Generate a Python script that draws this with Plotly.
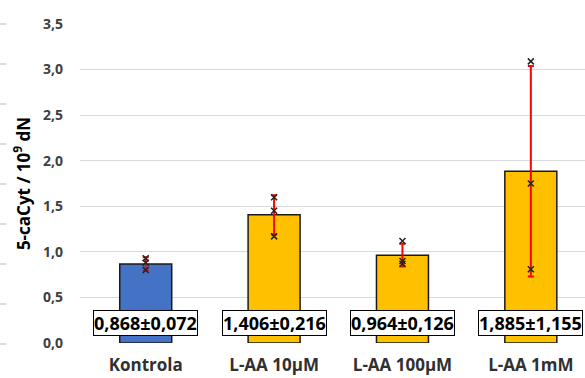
import plotly.graph_objects as go

categories = ["Kontrola", "L-AA 10µM", "L-AA 100µM", "L-AA 1mM"]
means = [0.868, 1.406, 0.964, 1.885]
sds = [0.072, 0.216, 0.126, 1.155]
points = [
    [0.80, 0.88, 0.93],
    [1.17, 1.45, 1.60],
    [0.87, 0.90, 1.12],
    [0.81, 1.75, 3.09],
]
bar_colors = ["#4472C4", "#FFC000", "#FFC000", "#FFC000"]
labels = ["0,868±0,072", "1,406±0,216", "0,964±0,126", "1,885±1,155"]
y_ticks = [0, 0.5, 1.0, 1.5, 2.0, 2.5, 3.0, 3.5]
y_tick_labels = ["0,0", "0,5", "1,0", "1,5", "2,0", "2,5", "3,0", "3,5"]

W, H = 585, 378
L, R, T, B = 80, 0, 24, 35
FONT = "Open Sans"

fig = go.Figure()
fig.add_trace(go.Bar(
    x=list(range(len(categories))), y=means, width=0.405,
    marker=dict(color=bar_colors, line=dict(color="#1a1a1a", width=1.5)),
    error_y=dict(type="data", array=sds, visible=True, color="#FF0000",
                 thickness=2, width=3),
    showlegend=False, hoverinfo="skip",
))
px, py = [], []
for i, pts in enumerate(points):
    for v in pts:
        px.append(i)
        py.append(v)
fig.add_trace(go.Scatter(
    x=px, y=py, mode="markers",
    marker=dict(symbol="x-thin", size=6, color="#222222",
                line=dict(color="#222222", width=1.5)),
    showlegend=False, hoverinfo="skip",
))

for i, t in enumerate(labels):
    fig.add_annotation(
        x=i, y=0.215, text="<b>%s</b>" % t, showarrow=False,
        font=dict(family=FONT, size=18, color="#000000"),
        bgcolor="#FFFFFF", bordercolor="#000000", borderwidth=1, borderpad=0,
    )

# faint tick dashes at the far left edge
plot_h = H - T - B
plot_w = W - L - R
shapes = []
for k in range(9):
    ypix = 24 + 40 * k
    yp = (H - B - ypix) / plot_h
    shapes.append(dict(type="line", xref="paper", yref="paper",
                       x0=(0 - L) / plot_w, x1=(6 - L) / plot_w, y0=yp, y1=yp,
                       line=dict(color="#d0d0d0", width=1.5)))
fig.update_layout(shapes=shapes)

fig.update_layout(
    width=W, height=H,
    margin=dict(l=L, r=R, t=T, b=B, autoexpand=False),
    paper_bgcolor="white", plot_bgcolor="white",
    font=dict(family=FONT),
    xaxis=dict(
        range=[-0.512, 3.422], tickmode="array",
        tickvals=list(range(len(categories))),
        ticktext=["<b>%s</b>" % c for c in categories],
        tickfont=dict(family=FONT, size=17, color="#303030"),
        showgrid=False, zeroline=False, showline=False, ticks="",
        ticklabelstandoff=10, automargin=False,
    ),
    yaxis=dict(
        range=[0, 3.5], tickmode="array", tickvals=y_ticks,
        ticktext=["<b>%s</b>" % t for t in y_tick_labels],
        tickfont=dict(family=FONT, size=14, color="#404040"),
        showgrid=True, gridcolor="#d9d9d9", gridwidth=1.2,
        zeroline=False, showline=False, ticks="",
        ticklabelstandoff=16, automargin=False,
        title=dict(text="<b>5-caCyt / 10<sup>9</sup> dN</b>",
                   font=dict(family=FONT, size=17, color="#000000"),
                   standoff=8),
    ),
)

fig.write_html("out.html")
